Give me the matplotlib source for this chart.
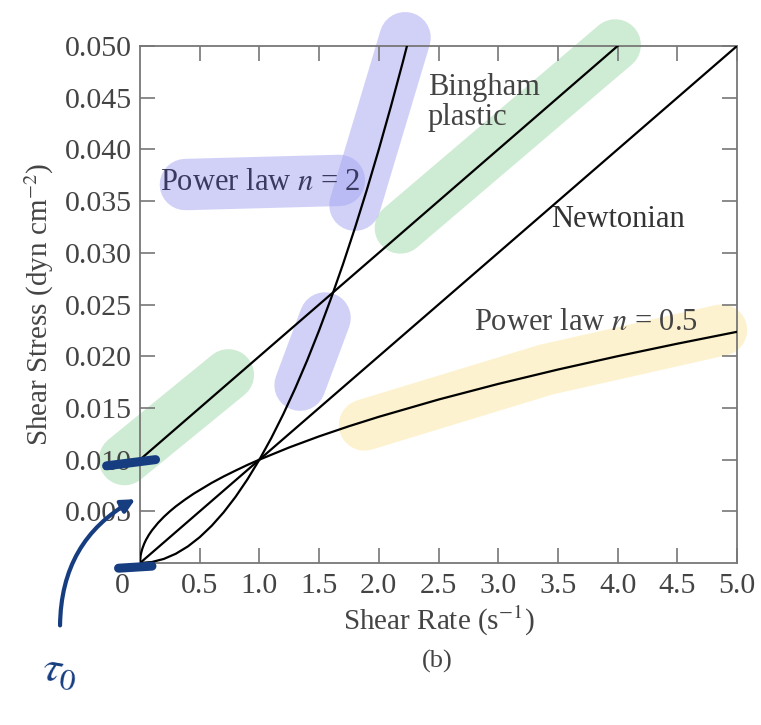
import matplotlib
matplotlib.use("Agg")
from matplotlib import pyplot as plt
from matplotlib import transforms

plt.rcParams['font.family'] = ['Liberation Serif', 'DejaVu Serif']
plt.rcParams['mathtext.fontset'] = 'stix'

# curves (shear rate in s^-1, shear stress in dyn cm^-2)
newton_x = [0, 5.0]
newton_y = [0, 0.050]

bingham_x = [0, 4.0]
bingham_y = [0.010, 0.050]

pow2_x = [0, 0.1, 0.2, 0.3, 0.4, 0.5, 0.6, 0.7, 0.8, 0.9, 1.0, 1.1, 1.2, 1.3,
          1.4, 1.5, 1.6, 1.7, 1.8, 1.9, 2.0, 2.1, 2.2, 2.24]
pow2_y = [0, 0.0001, 0.0004, 0.0009, 0.0016, 0.0025, 0.0036, 0.0049, 0.0064,
          0.0081, 0.0100, 0.0121, 0.0144, 0.0169, 0.0196, 0.0225, 0.0256,
          0.0289, 0.0324, 0.0361, 0.0400, 0.0441, 0.0484, 0.0502]

powhalf_x = [0, 0.005, 0.01, 0.02, 0.035, 0.05, 0.075, 0.1, 0.15, 0.2, 0.25,
             0.3, 0.375, 0.45, 0.6, 0.7, 0.8, 0.9, 1.0, 1.25, 1.5, 1.75,
             2.0, 2.5, 3.0, 3.5, 4.0, 4.5, 5.0]
powhalf_y = [0, 0.00071, 0.0010, 0.00141, 0.00187, 0.00224, 0.00274, 0.00316,
             0.00387, 0.00447, 0.0050, 0.00548, 0.00612, 0.00671, 0.00775,
             0.00837, 0.00894, 0.00949, 0.0100, 0.01118, 0.01225, 0.01323,
             0.01414, 0.01581, 0.01732, 0.01871, 0.0200, 0.02121, 0.02236]

xticks = [0, 0.5, 1.0, 1.5, 2.0, 2.5, 3.0, 3.5, 4.0, 4.5, 5.0]
xticklabels = ["0", "0.5", "1.0", "1.5", "2.0", "2.5", "3.0", "3.5", "4.0", "4.5", "5.0"]
yticks = [0.005, 0.010, 0.015, 0.020, 0.025, 0.030, 0.035, 0.040, 0.045, 0.050]
yticklabels = ["0.005", "0.010", "0.015", "0.020", "0.025", "0.030", "0.035",
               "0.040", "0.045", "0.050"]

# highlighter strokes someone drew over the page (x list, y list, colour)
highlights = [
    ([2.18, 3.98], [0.0324, 0.0501], "#9fd8a8"),
    ([-0.13, 0.74], [0.0100, 0.0182], "#9fd8a8"),
    ([1.80, 2.22], [0.0346, 0.0508], "#a4a4f2"),
    ([1.34, 1.55], [0.0172, 0.0237], "#a4a4f2"),
    ([0.38, 1.67], [0.0366, 0.0370], "#a4a4f2"),
    ([1.88, 3.40, 4.87], [0.01335, 0.0187, 0.02253], "#fbe7a0"),
]

# pen marks
pen_marks = [
    ([-0.28, 0.13], [0.0094, 0.0100]),
    ([-0.18, 0.10], [-0.0005, -0.0003]),
]
arrow_start = (-0.67, -0.0063)
arrow_end = (-0.02, 0.0063)
tau_pos = (-0.67, -0.0105)
navy = "#163d80"

fig = plt.figure(figsize=(7.61, 7.25), dpi=100)
ax = fig.add_axes([0.184, 0.2234, 0.7845, 0.7132])

for hx, hy, c in highlights:
    ax.plot(hx, hy, color=c, lw=37, alpha=0.5, solid_capstyle='round',
            clip_on=False, zorder=1)

ax.plot(newton_x, newton_y, color='black', lw=1.6, zorder=3)
ax.plot(bingham_x, bingham_y, color='black', lw=1.6, zorder=3)
ax.plot(pow2_x, pow2_y, color='black', lw=1.6, zorder=3)
ax.plot(powhalf_x, powhalf_y, color='black', lw=1.6, zorder=3)

ax.set_xlim(0, 5)
ax.set_ylim(0, 0.05)
ax.set_xticks(xticks)
ax.set_xticklabels(xticklabels)
ax.set_yticks(yticks)
ax.set_yticklabels(yticklabels)
ax.tick_params(direction='in', length=11, width=1.2, color='#777777',
               labelsize=21.5, labelcolor='#444444', top=True, right=True, pad=6)
ax.tick_params(axis='x', pad=7)
# the "0" label sits left of the corner
lab0 = ax.get_xticklabels()[0]
lab0.set_transform(lab0.get_transform() +
                   transforms.ScaledTranslation(-0.18, 0, fig.dpi_scale_trans))
ax.xaxis.get_major_ticks()[0].tick1line.set_visible(False)
ax.xaxis.get_major_ticks()[0].tick2line.set_visible(False)
for s in ax.spines.values():
    s.set_color('#777777')
    s.set_linewidth(1.3)

ax.set_xlabel("Shear Rate (s$^{-1}$)", fontsize=21, color='#444444', labelpad=4)
ax.set_ylabel("Shear Stress (dyn cm$^{-2}$)", fontsize=21, color='#444444', labelpad=6)
fig.text(0.574, 0.087, "(b)", fontsize=19, color='#444444', ha='center', va='center')

ax.text(0.17, 0.0368, "Power law $n$ = 2", fontsize=22, color='#3a3a60', va='center', zorder=4)
ax.text(2.41, 0.0460, "Bingham", fontsize=22, color='#444444', va='center', zorder=4)
ax.text(2.41, 0.0431, "plastic", fontsize=22, color='#444444', va='center', zorder=4)
ax.text(3.44, 0.0332, "Newtonian", fontsize=22, color='#333333', va='center', zorder=4)
ax.text(2.80, 0.0233, "Power law $n$ = 0.5", fontsize=22, color='#444444', va='center', zorder=4)

for mx, my in pen_marks:
    ax.plot(mx, my, color=navy, lw=6.5, solid_capstyle='round', clip_on=False, zorder=5)
ax.annotate("", xy=arrow_end, xytext=arrow_start, annotation_clip=False,
            arrowprops=dict(arrowstyle='-|>', color=navy, lw=3, mutation_scale=20,
                            connectionstyle='arc3,rad=-0.3'), zorder=5)
ax.text(tau_pos[0], tau_pos[1], r"$\tau_0$", fontsize=32, color=navy,
        ha='center', va='center', rotation=-10, clip_on=False, zorder=5)

plt.savefig("out.png", dpi=100)
